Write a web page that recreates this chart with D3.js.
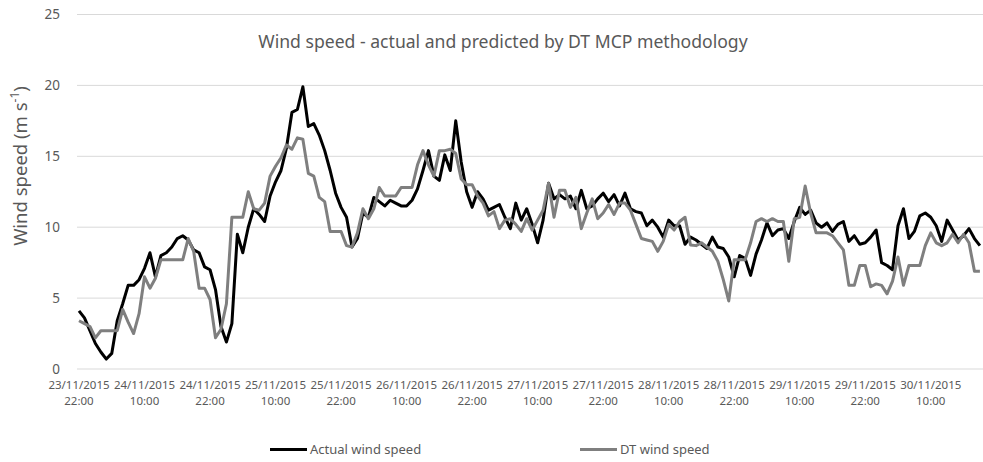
<!DOCTYPE html>
<html>
<head>
<meta charset="utf-8">
<script src="https://cdn.jsdelivr.net/npm/d3@7"></script>
<style>
  body { margin: 0; background: #fff; }
  text { font-family: "Noto Sans", sans-serif; fill: #595959; }
</style>
</head>
<body>
<div id="chart"></div>
<script>
// hourly values starting 23/11/2015 22:00
const tickLabels = [
  ["23/11/2015", "22:00"], ["24/11/2015", "10:00"], ["24/11/2015", "22:00"],
  ["25/11/2015", "10:00"], ["25/11/2015", "22:00"], ["26/11/2015", "10:00"],
  ["26/11/2015", "22:00"], ["27/11/2015", "10:00"], ["27/11/2015", "22:00"],
  ["28/11/2015", "10:00"], ["28/11/2015", "22:00"], ["29/11/2015", "10:00"],
  ["29/11/2015", "22:00"], ["30/11/2015", "10:00"]
];
const tickEvery = 12;
const yTicks = [0, 5, 10, 15, 20, 25];

const actualSpeed = [
  4.1, 3.6, 2.7, 1.8, 1.2, 0.7, 1.1, 3.4, 4.6, 5.9,
  5.9, 6.3, 7.1, 8.2, 6.5, 8.0, 8.2, 8.6, 9.2, 9.4,
  9.1, 8.4, 8.2, 7.2, 7.0, 5.6, 3.0, 1.9, 3.2, 9.5,
  8.2, 10.0, 11.3, 10.9, 10.4, 12.2, 13.2, 14.0, 15.6, 18.1,
  18.3, 19.9, 17.1, 17.3, 16.5, 15.4, 14.0, 12.4, 11.4, 10.7,
  8.6, 9.2, 11.0, 10.7, 12.1, 11.8, 11.5, 11.9, 11.7, 11.5,
  11.5, 11.9, 12.7, 14.0, 15.4, 13.6, 13.3, 15.1, 14.0, 17.5,
  14.6, 12.5, 11.4, 12.5, 12.0, 11.2, 11.4, 11.6, 10.7, 9.9,
  11.7, 10.5, 11.3, 10.2, 8.9, 10.5, 13.1, 12.0, 12.3, 12.0,
  12.2, 11.3, 12.6, 11.3, 11.5, 12.0, 12.4, 11.8, 12.3, 11.5,
  12.4, 11.3, 11.1, 11.0, 10.1, 10.5, 10.0, 9.3, 10.5, 10.1,
  10.1, 8.8, 9.3, 9.1, 8.8, 8.5, 9.3, 8.6, 8.5, 7.9,
  6.5, 8.0, 7.8, 6.6, 8.1, 9.1, 10.3, 9.4, 9.8, 9.9,
  9.2, 10.4, 11.4, 10.9, 11.2, 10.3, 10.0, 10.3, 9.7, 10.2,
  10.4, 9.0, 9.4, 8.8, 8.9, 9.3, 9.8, 7.5, 7.3, 7.0,
  10.1, 11.3, 9.2, 9.7, 10.8, 11.0, 10.7, 10.1, 9.0, 10.5,
  9.8, 9.1, 9.4, 9.9, 9.2, 8.7
];

const dtSpeed = [
  3.4, 3.2, 3.0, 2.2, 2.7, 2.7, 2.7, 2.7, 4.2, 3.3,
  2.5, 3.9, 6.5, 5.7, 6.4, 7.7, 7.7, 7.7, 7.7, 7.7,
  9.2, 8.3, 5.7, 5.7, 4.9, 2.2, 2.8, 4.6, 10.7, 10.7,
  10.7, 12.5, 11.3, 11.2, 11.7, 13.6, 14.3, 14.9, 15.8, 15.5,
  16.3, 16.2, 13.8, 13.6, 12.1, 11.8, 9.7, 9.7, 9.7, 8.7,
  8.6, 9.6, 11.3, 10.6, 11.3, 12.8, 12.2, 12.2, 12.2, 12.8,
  12.8, 12.8, 14.4, 15.4, 14.4, 13.6, 15.4, 15.4, 15.5, 15.2,
  13.4, 13.0, 13.0, 12.2, 11.7, 10.8, 11.1, 9.9, 10.5, 10.6,
  10.2, 9.7, 10.6, 9.8, 10.5, 11.2, 13.1, 10.7, 12.6, 12.6,
  11.4, 12.1, 9.9, 11.0, 12.0, 10.6, 11.0, 11.6, 10.9, 11.7,
  11.7, 11.2, 10.2, 9.2, 9.1, 9.0, 8.3, 9.0, 10.2, 9.8,
  10.4, 10.7, 8.75, 8.7, 8.9, 8.6, 8.3, 7.6, 6.3, 4.8,
  7.7, 7.7, 7.7, 8.9, 10.4, 10.6, 10.4, 10.6, 10.4, 10.4,
  7.6, 10.6, 10.7, 12.9, 11.0, 9.6, 9.6, 9.6, 9.4, 8.9,
  8.4, 5.9, 5.9, 7.3, 7.3, 5.8, 6.0, 5.9, 5.3, 6.2,
  7.9, 5.9, 7.3, 7.3, 7.3, 8.7, 9.6, 8.9, 8.7, 8.9,
  9.5, 8.9, 9.5, 8.9, 6.9, 6.9
];

const width = 983, height = 462;
let svg = d3
  .select("#chart")
  .append("svg")
  .attr("width", width)
  .attr("height", height);

let plot = { left: 77, right: 983, top: 14.5, bottom: 369 };

let x = d3.scaleLinear()
  .domain([0, actualSpeed.length - 1])
  .range([79, 979.9]);
let y = d3.scaleLinear().domain([0, 25]).range([plot.bottom, plot.top]);

// gridlines
svg.append("g")
  .selectAll("line")
  .data(yTicks)
  .enter()
  .append("line")
  .attr("x1", plot.left)
  .attr("x2", plot.right)
  .attr("y1", d => y(d))
  .attr("y2", d => y(d))
  .attr("stroke", "#d9d9d9")
  .attr("stroke-width", 1);

// y tick labels
svg.append("g")
  .selectAll("text")
  .data(yTicks)
  .enter()
  .append("text")
  .attr("x", 60)
  .attr("y", d => y(d))
  .attr("dy", "0.35em")
  .attr("text-anchor", "end")
  .style("font-size", "13.5px")
  .text(d => d);

// x tick labels (every 12 h)
let xl = svg.append("g")
  .selectAll("text")
  .data(tickLabels)
  .enter()
  .append("text")
  .attr("text-anchor", "middle")
  .style("font-size", "11.5px");
xl.append("tspan")
  .attr("x", (d, i) => x(i * tickEvery))
  .attr("y", 388.5)
  .text(d => d[0]);
xl.append("tspan")
  .attr("x", (d, i) => x(i * tickEvery))
  .attr("y", 405)
  .text(d => d[1]);

let line = d3.line()
  .x((d, i) => x(i))
  .y(d => y(d));

svg.append("path")
  .datum(actualSpeed)
  .attr("fill", "none")
  .attr("stroke", "#000")
  .attr("stroke-width", 3)
  .attr("stroke-linejoin", "round")
  .attr("d", line);

svg.append("path")
  .datum(dtSpeed)
  .attr("fill", "none")
  .attr("stroke", "#7f7f7f")
  .attr("stroke-width", 3)
  .attr("stroke-linejoin", "round")
  .attr("d", line);

// title
svg.append("text")
  .attr("x", 503)
  .attr("y", 48)
  .attr("text-anchor", "middle")
  .style("font-size", "17.6px")
  .text("Wind speed - actual and predicted by DT MCP methodology");

// y axis title
let yt = svg.append("text")
  .attr("transform", "translate(27,166) rotate(-90)")
  .attr("text-anchor", "middle")
  .style("font-size", "18.5px");
yt.append("tspan").text("Wind speed (m s");
yt.append("tspan").attr("baseline-shift", "super").style("font-size", "12px").text("-1");
yt.append("tspan").text(")");

// legend
let legend = [
  { name: "Actual wind speed", color: "#000", x: 270 },
  { name: "DT wind speed", color: "#7f7f7f", x: 580 }
];
let lg = svg.append("g")
  .selectAll("g")
  .data(legend)
  .enter()
  .append("g");
lg.append("line")
  .attr("x1", d => d.x)
  .attr("x2", d => d.x + 37)
  .attr("y1", 449.5)
  .attr("y2", 449.5)
  .attr("stroke", d => d.color)
  .attr("stroke-width", 3);
lg.append("text")
  .attr("x", d => d.x + 40)
  .attr("y", 449.5)
  .attr("dy", "0.35em")
  .style("font-size", "13px")
  .text(d => d.name);
</script>
</body>
</html>
